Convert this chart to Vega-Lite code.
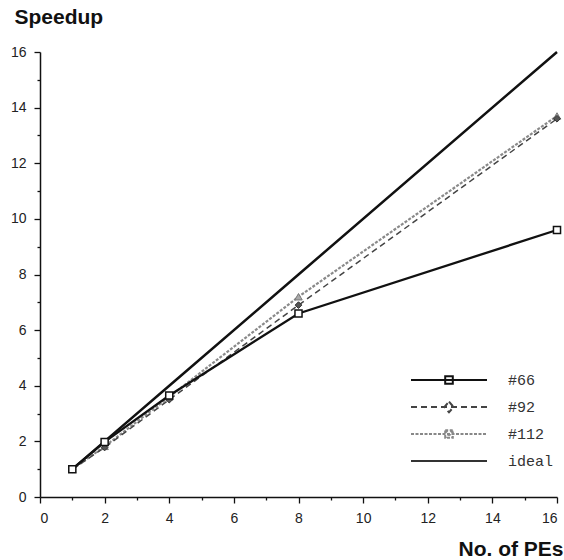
{
  "$schema": "https://vega.github.io/schema/vega-lite/v6.json",
  "width": 517,
  "height": 445,
  "autosize": {"type": "none"},
  "padding": {"left": 40, "top": 52, "right": 7, "bottom": 63},
  "background": "white",
  "config": {
    "view": {"stroke": null},
    "axis": {
      "domainColor": "#111",
      "domainWidth": 1.5,
      "tickColor": "#111",
      "tickWidth": 1.3,
      "grid": false,
      "labelFont": "Liberation Sans",
      "labelFontSize": 14,
      "labelColor": "#222",
      "titleFont": "Liberation Sans",
      "titleFontSize": 21,
      "titleFontWeight": "bold",
      "titleColor": "#111"
    }
  },
  "data": {
    "values": [
      {"s": "#66", "x": 1, "y": 1},
      {"s": "#66", "x": 2, "y": 1.98},
      {"s": "#66", "x": 4, "y": 3.65},
      {"s": "#66", "x": 8, "y": 6.6},
      {"s": "#66", "x": 16, "y": 9.6},
      {"s": "#92", "x": 1, "y": 1},
      {"s": "#92", "x": 2, "y": 1.78},
      {"s": "#92", "x": 4, "y": 3.5},
      {"s": "#92", "x": 8, "y": 6.9},
      {"s": "#92", "x": 16, "y": 13.6},
      {"s": "#112", "x": 1, "y": 1},
      {"s": "#112", "x": 2, "y": 1.82},
      {"s": "#112", "x": 4, "y": 3.6},
      {"s": "#112", "x": 8, "y": 7.2},
      {"s": "#112", "x": 16, "y": 13.7},
      {"s": "ideal", "x": 1, "y": 1},
      {"s": "ideal", "x": 2, "y": 2},
      {"s": "ideal", "x": 4, "y": 4},
      {"s": "ideal", "x": 8, "y": 8},
      {"s": "ideal", "x": 16, "y": 16}
    ]
  },
  "encoding": {
    "x": {
      "field": "x",
      "type": "quantitative",
      "scale": {"domain": [0, 16], "nice": false},
      "axis": {
        "values": [0,1,2,3,4,5,6,7,8,9,10,11,12,13,14,15,16],
        "labelExpr": "datum.value % 2 === 0 ? datum.label : ''",
        "tickSize": {"condition": {"test": "datum.value % 2 === 0", "value": 6}, "value": 3},
        "labelPadding": 8,
        "title": "No. of PEs",
        "titleAnchor": null,
        "titleX": 523,
        "titleY": 58,
        "titleAlign": "right",
        "titleBaseline": "alphabetic"
      }
    },
    "y": {
      "field": "y",
      "type": "quantitative",
      "scale": {"domain": [0, 16], "nice": false},
      "axis": {
        "values": [0,1,2,3,4,5,6,7,8,9,10,11,12,13,14,15,16],
        "labelExpr": "datum.value % 2 === 0 ? datum.label : ''",
        "tickSize": {"condition": {"test": "datum.value % 2 === 0", "value": 6}, "value": 3},
        "labelPadding": 8,
        "title": "Speedup",
        "titleAngle": 0,
        "titleX": -26,
        "titleY": -29,
        "titleAlign": "left",
        "titleBaseline": "alphabetic"
      }
    }
  },
  "layer": [
    {
      "transform": [{"filter": "datum.s === 'ideal'"}],
      "mark": {"type": "line", "color": "#111", "strokeWidth": 2.5}
    },
    {
      "transform": [{"filter": "datum.s === '#112'"}],
      "mark": {"type": "line", "color": "#8a8a8a", "strokeWidth": 2.2, "strokeDash": [3, 1.5]}
    },
    {
      "transform": [{"filter": "datum.s === '#92'"}],
      "mark": {"type": "line", "color": "#444", "strokeWidth": 1.5, "strokeDash": [6, 4]}
    },
    {
      "transform": [{"filter": "datum.s === '#66'"}],
      "mark": {"type": "line", "color": "#111", "strokeWidth": 2.3}
    },
    {
      "transform": [{"filter": "datum.s === '#112'"}],
      "mark": {"type": "point", "shape": "triangle-up", "filled": true, "fill": "#aaa", "stroke": "#777", "strokeWidth": 1, "size": 55, "opacity": 1}
    },
    {
      "transform": [{"filter": "datum.s === '#92'"}],
      "mark": {"type": "point", "shape": "diamond", "filled": true, "fill": "#555", "stroke": "#333", "strokeWidth": 1, "size": 45, "opacity": 1}
    },
    {
      "transform": [{"filter": "datum.s === '#66'"}],
      "mark": {"type": "point", "shape": "square", "filled": true, "fill": "white", "stroke": "#111", "strokeWidth": 1.5, "size": 50, "opacity": 1}
    },
    {
      "transform": [{"filter": "false"}],
      "mark": {"type": "point"},
      "encoding": {
        "shape": {
          "field": "s",
          "type": "nominal",
          "scale": {
            "domain": ["#66", "#92", "#112", "ideal"],
            "range": [
              "M-1,0H1M-0.1,-0.1H0.1V0.1H-0.1Z",
              "M-1,0H1M0,-0.14L0.12,0L0,0.14L-0.12,0Z",
              "M-1,0H1M-0.1,-0.1H0.1V0.1H-0.1ZM-0.1,-0.1L0.1,0.1M0.1,-0.1L-0.1,0.1",
              "M-1,0H1"
            ]
          },
          "legend": {
            "title": null,
            "orient": "none",
            "legendX": 370,
            "legendY": 318,
            "symbolSize": 5776,
            "clipHeight": 20,
            "rowPadding": 7,
            "labelFont": "Liberation Mono",
            "labelFontSize": 15,
            "labelColor": "#333",
            "labelOffset": 20,
            "symbolOpacity": 1,
            "symbolFillColor": "transparent",
            "symbolStrokeWidth": 2,
            "symbolStrokeColor": {"expr": "datum.value === '#66' ? '#111' : datum.value === '#92' ? '#444' : datum.value === '#112' ? '#888' : '#333'"},
            "symbolDash": {"expr": "datum.value === '#92' ? [6,4] : datum.value === '#112' ? [3,1.5] : [1,0]"}
          }
        }
      }
    }
  ]
}
